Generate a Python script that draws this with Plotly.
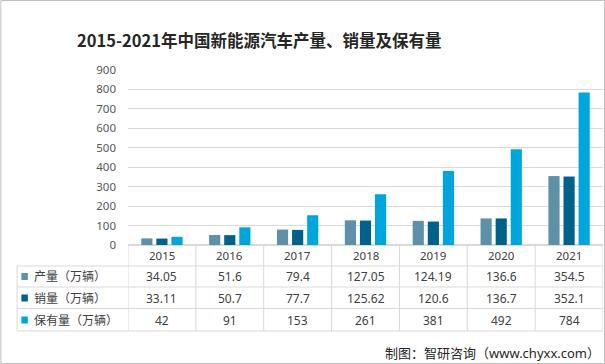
import plotly.graph_objects as go

years = ["2015", "2016", "2017", "2018", "2019", "2020", "2021"]
production = [34.05, 51.6, 79.4, 127.05, 124.19, 136.6, 354.5]
sales = [33.11, 50.7, 77.7, 125.62, 120.6, 136.7, 352.1]
stock = [42, 91, 153, 261, 381, 492, 784]
production_labels = ["34.05", "51.6", "79.4", "127.05", "124.19", "136.6", "354.5"]
sales_labels = ["33.11", "50.7", "77.7", "125.62", "120.6", "136.7", "352.1"]
stock_labels = ["42", "91", "153", "261", "381", "492", "784"]
series_names = ["产量（万辆）", "销量（万辆）", "保有量（万辆）"]
title_text = "2015-2021年中国新能源汽车产量、销量及保有量"
source_text = "制图：智研咨询（www.chyxx.com）"

W, H = 605, 364
L, R, T, B = 127.7, 2, 70, 119
PW = W - L - R
PH = H - T - B
colors = ["#5E90A8", "#00628A", "#00A5DC"]
grid = "#D9D9D9"
txt = "#404040"
FONT = "Noto Sans, Noto Sans CJK SC, sans-serif"


def px(x):
    return (x - L) / PW


def py(y):
    return (H - B - y) / PH


fig = go.Figure()
for name, vals, c in zip(series_names, [production, sales, stock], colors):
    fig.add_trace(go.Bar(x=years, y=vals, name=name, marker=dict(color=c, line=dict(width=0))))

shapes = []
annotations = []

# table horizontal lines
for yy in [266, 287, 308.5, 331]:
    shapes.append(dict(type="line", xref="paper", yref="paper", x0=px(16.7), x1=1,
                       y0=py(yy), y1=py(yy), line=dict(color=grid, width=1)))
# vertical lines
for i in range(8):
    shapes.append(dict(type="line", xref="x", yref="paper", x0=i - 0.5, x1=i - 0.5,
                       y0=0, y1=py(331), line=dict(color=grid, width=1)))
shapes.append(dict(type="line", xref="paper", yref="paper", x0=px(16.7), x1=px(16.7),
                   y0=py(266), y1=py(331), line=dict(color=grid, width=1)))
# outer border
shapes.append(dict(type="rect", xref="paper", yref="paper", x0=px(0.5), x1=px(604.5),
                   y0=py(0.5), y1=py(363.5), line=dict(color="#BFBFBF", width=1)))

row_centers = [276.5, 298, 320]
for yc, c, name in zip(row_centers, colors, series_names):
    shapes.append(dict(type="rect", xref="paper", yref="paper", x0=px(21), x1=px(27.5),
                       y0=py(yc + 3.5), y1=py(yc - 3.5), fillcolor=c, line=dict(width=0)))
    annotations.append(dict(xref="paper", yref="paper", x=px(32), y=py(yc), text=name,
                            showarrow=False, xanchor="left", yanchor="middle",
                            font=dict(size=12, color=txt, family=FONT)))

for i, yr in enumerate(years):
    annotations.append(dict(xref="x", yref="paper", x=i, y=py(255.5), text=yr, showarrow=False,
                            xanchor="center", yanchor="middle",
                            font=dict(size=11.5, color=txt, family=FONT)))
    for yc, labels in zip(row_centers, [production_labels, sales_labels, stock_labels]):
        annotations.append(dict(xref="x", yref="paper", x=i, y=py(yc), text=labels[i],
                                showarrow=False, xanchor="center", yanchor="middle",
                                font=dict(size=12, color=txt, family=FONT)))

annotations.append(dict(xref="paper", yref="paper", x=px(259), y=py(40), text="<b>" + title_text + "</b>",
                        showarrow=False, xanchor="center", yanchor="middle",
                        font=dict(size=16.5, color="#262626", family="Noto Sans CJK SC, sans-serif")))
annotations.append(dict(xref="paper", yref="paper", x=px(602), y=py(353), text=source_text,
                        showarrow=False, xanchor="right", yanchor="middle",
                        font=dict(size=13, color="#262626", family=FONT)))

fig.update_layout(
    width=W, height=H,
    margin=dict(l=L, r=R, t=T, b=B, pad=0),
    paper_bgcolor="white", plot_bgcolor="white",
    barmode="group", bargap=0.333, bargroupgap=0.26,
    showlegend=False,
    shapes=shapes, annotations=annotations,
    xaxis=dict(type="category", range=[-0.5, 6.5], showticklabels=False, showgrid=False,
               zeroline=False, showline=False, ticks=""),
    yaxis=dict(range=[0, 900], dtick=100, showgrid=True, gridcolor=grid, gridwidth=1,
               zeroline=True, zerolinecolor=grid, showline=False, ticks="",
               ticklabelstandoff=11,
               tickfont=dict(size=11.5, color="#595959", family=FONT)),
)

fig.write_html("out.html", config={"displayModeBar": False},
               post_script="document.body.style.margin='0';document.body.style.overflow='hidden';")
